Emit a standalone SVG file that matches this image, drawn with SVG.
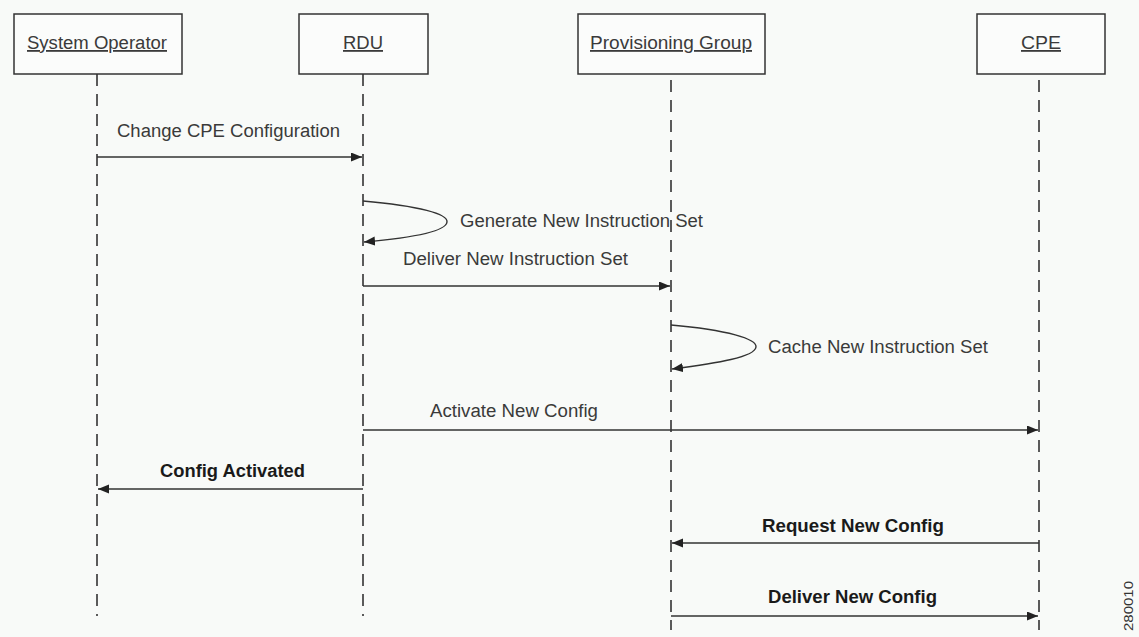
<svg xmlns="http://www.w3.org/2000/svg" width="1139" height="637" viewBox="0 0 1139 637">
<style>
.bg{fill:#f8faf8}
.box{fill:#fbfcfb;stroke:#333;stroke-width:1.5}
.hd{font-family:"Liberation Sans",Arial,sans-serif;font-size:18px;fill:#3a3a3a;text-anchor:middle;text-decoration:underline}
.life{stroke:#333;stroke-width:1.6;stroke-dasharray:12 8;fill:none}
.msg{stroke:#333;stroke-width:1.4;fill:none}
.lbl{font-family:"Liberation Sans",Arial,sans-serif;font-size:18px;fill:#3a3a3a}
.lb{font-family:"Liberation Sans",Arial,sans-serif;font-size:18px;fill:#1a1a1a;font-weight:bold}
.id{font-family:"Liberation Sans",Arial,sans-serif;font-size:12px;fill:#333}
</style>
<defs>
<marker id="ah" markerWidth="12" markerHeight="10" refX="11" refY="4.5" orient="auto" markerUnits="userSpaceOnUse">
<path d="M0,0 L11,4.5 L0,9 z" fill="#222"/>
</marker>
</defs>
<rect class="bg" x="0" y="0" width="1139" height="637"/>
<g id="node-system-operator">
<rect class="box" x="14" y="14" width="168" height="60"/>
<text class="hd" x="97" y="49" textLength="140" lengthAdjust="spacingAndGlyphs">System Operator</text>
<line class="life" x1="97" y1="74" x2="97" y2="616"/>
</g>
<g id="node-rdu">
<rect class="box" x="299" y="14" width="129" height="60"/>
<text class="hd" x="363" y="49" textLength="40" lengthAdjust="spacingAndGlyphs">RDU</text>
<line class="life" x1="363" y1="74" x2="363" y2="616"/>
</g>
<g id="node-provisioning-group">
<rect class="box" x="578" y="14" width="187" height="60"/>
<text class="hd" x="671" y="49" textLength="162" lengthAdjust="spacingAndGlyphs">Provisioning Group</text>
<line class="life" x1="671" y1="80" x2="671" y2="630"/>
</g>
<g id="node-cpe">
<rect class="box" x="977" y="14" width="128" height="60"/>
<text class="hd" x="1041" y="49" textLength="40" lengthAdjust="spacingAndGlyphs">CPE</text>
<line class="life" x1="1039" y1="80" x2="1039" y2="630"/>
</g>
<g id="connectors">
<line class="msg" x1="97" y1="157" x2="362" y2="157" marker-end="url(#ah)"/>
<text class="lbl" x="117" y="137" textLength="223" lengthAdjust="spacingAndGlyphs">Change CPE Configuration</text>
<path class="msg" d="M363,201 C420,206 448,214 447,222 C446,232 410,238 364,242" marker-end="url(#ah)"/>
<text class="lbl" x="460" y="227" textLength="243" lengthAdjust="spacingAndGlyphs">Generate New Instruction Set</text>
<line class="msg" x1="363" y1="286" x2="670" y2="286" marker-end="url(#ah)"/>
<text class="lbl" x="403" y="265" textLength="225" lengthAdjust="spacingAndGlyphs">Deliver New Instruction Set</text>
<path class="msg" d="M671,325 C728,330 757,339 756,347 C755,357 718,363 672,369" marker-end="url(#ah)"/>
<text class="lbl" x="768" y="353" textLength="220" lengthAdjust="spacingAndGlyphs">Cache New Instruction Set</text>
<line class="msg" x1="363" y1="430" x2="1038" y2="430" marker-end="url(#ah)"/>
<text class="lbl" x="430" y="417" textLength="168" lengthAdjust="spacingAndGlyphs">Activate New Config</text>
<line class="msg" x1="363" y1="489" x2="98" y2="489" marker-end="url(#ah)"/>
<text class="lb" x="160" y="477" textLength="145" lengthAdjust="spacingAndGlyphs">Config Activated</text>
<line class="msg" x1="1039" y1="543" x2="672" y2="543" marker-end="url(#ah)"/>
<text class="lb" x="762" y="532" textLength="182" lengthAdjust="spacingAndGlyphs">Request New Config</text>
<line class="msg" x1="671" y1="616" x2="1038" y2="616" marker-end="url(#ah)"/>
<text class="lb" x="768" y="603" textLength="169" lengthAdjust="spacingAndGlyphs">Deliver New Config</text>
</g>
<text class="id" transform="translate(1133,631) rotate(-90)" textLength="50" lengthAdjust="spacingAndGlyphs">280010</text>
</svg>
